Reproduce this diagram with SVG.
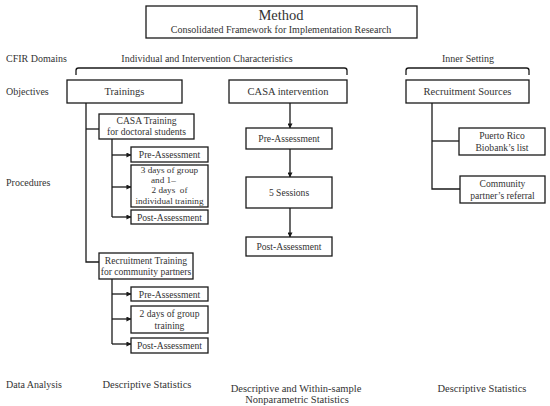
<svg xmlns="http://www.w3.org/2000/svg" width="550" height="406" viewBox="0 0 550 406">
<defs>
<marker id="ah" viewBox="0 0 6 6" refX="5.5" refY="3" markerWidth="5" markerHeight="5" orient="auto" markerUnits="userSpaceOnUse">
<path d="M0,0 L6,3 L0,6 Z" fill="#1a1a1a"/>
</marker>
<style>
text{font-family:"Liberation Serif","DejaVu Serif",serif;fill:#333;font-size:10.5px}
.c{text-anchor:middle}
.r{font-size:10px}
.s{font-size:9.6px}
.box{fill:#fff;stroke:#1a1a1a;stroke-width:1.3}
.ln{fill:none;stroke:#1a1a1a;stroke-width:1.3}
.ar{fill:none;stroke:#1a1a1a;stroke-width:1.3;marker-end:url(#ah)}
</style>
</defs>
<rect width="550" height="406" fill="#fff"/>

<g id="method">
<rect class="box" x="146" y="6" width="271" height="32"/>
<text class="c" x="281" y="20" style="font-size:14.5px">Method</text>
<text class="c" x="281" y="33" style="font-size:10px">Consolidated Framework for Implementation Research</text>
</g>

<g id="row-labels">
<text class="r" x="6" y="62">CFIR Domains</text>
<text class="r" x="6" y="95">Objectives</text>
<text class="r" x="6" y="186">Procedures</text>
<text class="r" x="6" y="388">Data Analysis</text>
</g>

<g id="domains">
<text class="c r" x="207" y="62">Individual and Intervention Characteristics</text>
<text class="c r" x="468" y="62">Inner Setting</text>
</g>

<g id="connectors">
<path class="ln" d="M76,75 V70.5 Q76,68 78.5,68 H344.5 Q347,68 347,70.5 V75"/>
<path class="ln" d="M406,75 V70.5 Q406,68 408.5,68 H526.5 Q529,68 529,70.5 V75"/>
<path class="ln" d="M86,103 V262 H99"/>
<path class="ln" d="M86,129 H99"/>
<path class="ln" d="M112,139 V217"/>
<path class="ar" d="M112,155 H131"/>
<path class="ar" d="M112,187 H131"/>
<path class="ar" d="M112,217 H131"/>
<path class="ln" d="M112,279 V344"/>
<path class="ar" d="M112,294 H131"/>
<path class="ar" d="M112,319 H131"/>
<path class="ar" d="M112,344 H131"/>
<path class="ar" d="M290,103 V128"/>
<path class="ar" d="M290,149 V177"/>
<path class="ar" d="M290,208 V237"/>
<path class="ln" d="M432,103 V189 H460"/>
<path class="ln" d="M432,141 H459"/>
</g>

<g id="trainings">
<rect class="box" x="67" y="80" width="115" height="23"/>
<text class="c" x="124.5" y="95">Trainings</text>
</g>
<g id="casa-intervention">
<rect class="box" x="229" y="80" width="118" height="23"/>
<text class="c" x="288" y="95">CASA intervention</text>
</g>
<g id="recruitment-sources">
<rect class="box" x="406" y="80" width="123" height="23"/>
<text class="c" x="467.5" y="95">Recruitment Sources</text>
</g>

<g id="casa-training">
<rect class="box" x="99" y="114" width="95" height="25"/>
<text class="c s" x="146.5" y="124">CASA Training</text>
<text class="c s" x="146.5" y="135">for doctoral students</text>
</g>
<g id="ct-pre">
<rect class="box" x="131" y="147" width="77" height="15"/>
<text class="c s" x="169.5" y="158">Pre-Assessment</text>
</g>
<g id="ct-days">
<rect class="box" x="131" y="165" width="77" height="42"/>
<text class="c" x="169.5" y="173" style="font-size:9.2px">3 days of group</text>
<text x="151" y="183.3" style="font-size:9.2px">and 1–</text>
<text class="c" x="169.5" y="192.8" style="font-size:9.2px;white-space:pre">2 days  of</text>
<text class="c" x="169.5" y="203.5" style="font-size:9.2px">individual training</text>
</g>
<g id="ct-post">
<rect class="box" x="131" y="210" width="77" height="14"/>
<text class="c s" x="169.5" y="220.5">Post-Assessment</text>
</g>

<g id="recruitment-training">
<rect class="box" x="99" y="253" width="94" height="26"/>
<text class="c s" x="146" y="264">Recruitment Training</text>
<text class="c s" x="146" y="275">for community partners</text>
</g>
<g id="rt-pre">
<rect class="box" x="131" y="287" width="77" height="14"/>
<text class="c s" x="169.5" y="297.5">Pre-Assessment</text>
</g>
<g id="rt-days">
<rect class="box" x="131" y="306" width="77" height="27"/>
<text class="c s" x="169.5" y="317">2 days of group</text>
<text class="c s" x="169.5" y="329">training</text>
</g>
<g id="rt-post">
<rect class="box" x="131" y="338" width="77" height="15"/>
<text class="c s" x="169.5" y="349">Post-Assessment</text>
</g>

<g id="ci-pre">
<rect class="box" x="246" y="128" width="86" height="21"/>
<text class="c s" x="289" y="142">Pre-Assessment</text>
</g>
<g id="ci-sessions">
<rect class="box" x="246" y="177" width="86" height="31"/>
<text class="c s" x="289" y="196">5 Sessions</text>
</g>
<g id="ci-post">
<rect class="box" x="246" y="237" width="86" height="19"/>
<text class="c s" x="289" y="250">Post-Assessment</text>
</g>

<g id="puerto-rico">
<rect class="box" x="459" y="128" width="86" height="27"/>
<text class="c s" x="502" y="139">Puerto Rico</text>
<text class="c s" x="502" y="151">Biobank’s list</text>
</g>
<g id="community">
<rect class="box" x="460" y="176" width="85" height="27"/>
<text class="c s" x="502.5" y="187">Community</text>
<text class="c s" x="502.5" y="199">partner’s referral</text>
</g>

<g id="analysis">
<text class="c" x="147" y="388">Descriptive Statistics</text>
<text class="c" x="296" y="392">Descriptive and Within-sample</text>
<text class="c" x="297" y="403">Nonparametric Statistics</text>
<text class="c" x="482" y="392">Descriptive Statistics</text>
</g>
</svg>
